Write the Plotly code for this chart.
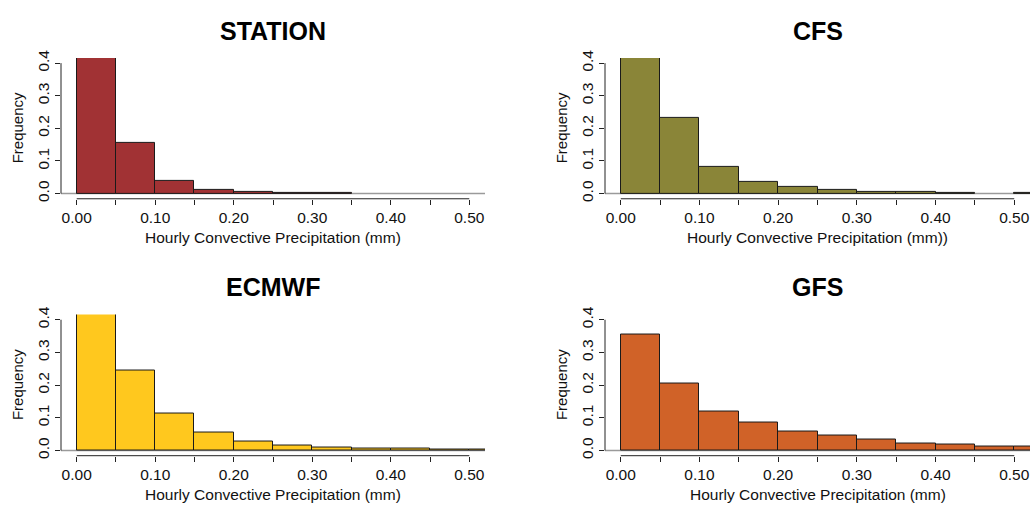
import plotly.graph_objects as go

# ---- data (relative frequency per 0.05 mm bin) ----
bin_left = [0.00, 0.05, 0.10, 0.15, 0.20, 0.25, 0.30, 0.35, 0.40, 0.45, 0.50]
bin_width = 0.05
station = [0.785, 0.154, 0.039, 0.011, 0.004, 0.002, 0.002, 0.0, 0.0, 0.0, 0.0]
cfs = [0.604, 0.233, 0.081, 0.035, 0.019, 0.012, 0.005, 0.005, 0.003, 0.0, 0.003]
ecmwf = [0.522, 0.244, 0.114, 0.054, 0.027, 0.016, 0.009, 0.005, 0.005, 0.002, 0.002]
gfs = [0.354, 0.204, 0.120, 0.087, 0.057, 0.045, 0.033, 0.022, 0.018, 0.013, 0.013]

titles = ["STATION", "CFS", "ECMWF", "GFS"]
xlabels = ["Hourly Convective Precipitation (mm)",
           "Hourly Convective Precipitation (mm))",
           "Hourly Convective Precipitation (mm)",
           "Hourly Convective Precipitation (mm)"]
colors = ["#A13234", "#8A8538", "#FFC81E", "#D06228"]
series = [station, cfs, ecmwf, gfs]

x_tickvals = [0.00, 0.05, 0.10, 0.15, 0.20, 0.25, 0.30, 0.35, 0.40, 0.45, 0.50]
x_ticktext = ["0.00", "", "0.10", "", "0.20", "", "0.30", "", "0.40", "", "0.50"]
y_tickvals = [0.0, 0.1, 0.2, 0.3, 0.4]
y_ticktext = ["0.0", "0.1", "0.2", "0.3", "0.4"]

W, H = 1034, 508
FONT = "Liberation Sans, Arial, sans-serif"

xr = [-0.02, 0.52]
yr = [-0.016, 0.416]

# panel domains in pixels (left, right, top, bottom)
panels_px = [
    (61, 485, 51, 195),
    (605, 1030, 51, 195),
    (61, 485, 313.3, 457.6),
    (605, 1030, 313.3, 457.6),
]

fig = go.Figure()
shapes = []
annotations = []

for i, (vals, col) in enumerate(zip(series, colors)):
    idx = "" if i == 0 else str(i + 1)
    l, r, t, b = panels_px[i]
    xd = [l / W, r / W]
    yd = [1 - b / H, 1 - t / H]
    centers = [x + bin_width / 2 for x in bin_left]
    yvals = [v if v > 0 else None for v in vals]
    fig.add_trace(go.Bar(
        x=centers, y=yvals, width=bin_width,
        marker=dict(color=col, line=dict(color="#1a1a1a", width=1)),
        xaxis="x" + idx, yaxis="y" + idx, showlegend=False, hoverinfo="skip",
    ))
    fig.layout["xaxis" + idx] = dict(
        domain=xd, range=xr, anchor="y" + idx, showgrid=False, zeroline=False,
        showline=False, ticks="outside", ticklen=5, tickcolor="#222", tickwidth=1,
        tickvals=x_tickvals, ticktext=x_ticktext,
        tickfont=dict(family=FONT, size=15.5, color="#111"),
    )
    fig.layout["yaxis" + idx] = dict(
        domain=yd, range=yr, anchor="x" + idx, showgrid=False, zeroline=False,
        showline=False, ticks="outside", ticklen=5, tickcolor="#222", tickwidth=1,
        tickvals=y_tickvals, ticktext=y_ticktext, tickangle=-90,
        tickfont=dict(family=FONT, size=15.5, color="#111"),
    )

    def px_x(v):
        return xd[0] + (v - xr[0]) / (xr[1] - xr[0]) * (xd[1] - xd[0])

    def px_y(v):
        return yd[0] + (v - yr[0]) / (yr[1] - yr[0]) * (yd[1] - yd[0])

    # gray zero baseline across the plot region
    shapes.append(dict(type="line", xref="paper", yref="paper",
                       x0=xd[0], x1=xd[1], y0=px_y(0), y1=px_y(0),
                       line=dict(color="#9a9a9a", width=1.5), layer="below"))
    # R-style axis lines spanning tick range
    shapes.append(dict(type="line", xref="paper", yref="paper",
                       x0=px_x(x_tickvals[0]), x1=px_x(x_tickvals[-1]),
                       y0=yd[0], y1=yd[0], line=dict(color="#222", width=1)))
    shapes.append(dict(type="line", xref="paper", yref="paper",
                       x0=xd[0], x1=xd[0], y0=px_y(y_tickvals[0]), y1=px_y(y_tickvals[-1]),
                       line=dict(color="#222", width=1)))
    # title
    annotations.append(dict(text="<b>%s</b>" % titles[i], xref="paper", yref="paper",
                            x=(xd[0] + xd[1]) / 2, y=1 - (t - 28) / H,
                            xanchor="center", yanchor="middle", showarrow=False,
                            font=dict(family=FONT, size=25, color="#000")))
    # x title
    annotations.append(dict(text=xlabels[i], xref="paper", yref="paper",
                            x=(px_x(0) + px_x(0.5)) / 2, y=1 - (b + 40) / H,
                            xanchor="center", yanchor="middle", showarrow=False,
                            font=dict(family=FONT, size=15.5, color="#111")))
    # y title
    annotations.append(dict(text="Frequency", xref="paper", yref="paper",
                            x=(l - 44) / W, y=(yd[0] + yd[1]) / 2, textangle=-90,
                            xanchor="center", yanchor="middle", showarrow=False,
                            font=dict(family=FONT, size=15, color="#111")))

fig.update_layout(
    width=W, height=H, margin=dict(l=0, r=0, t=0, b=0),
    paper_bgcolor="white", plot_bgcolor="white",
    shapes=shapes, annotations=annotations, bargap=0,
)
fig.write_html("out.html")
